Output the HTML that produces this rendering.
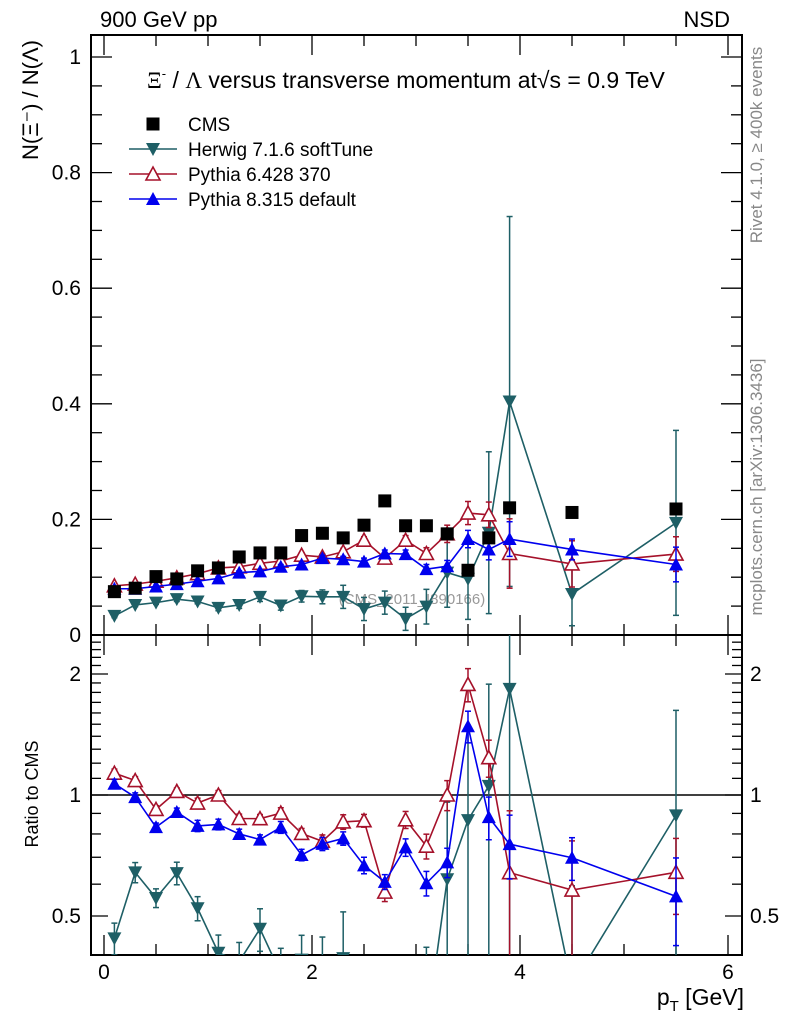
<!DOCTYPE html>
<html><head><meta charset="utf-8"><style>
html,body{margin:0;padding:0;background:#fff;overflow:hidden;width:786px;height:1024px;}
svg{display:block;font-family:"Liberation Sans","DejaVu Sans",sans-serif;}
</style></head><body>
<svg id="chart" width="786" height="1024" viewBox="0 0 786 1024" xmlns="http://www.w3.org/2000/svg">
<text x="100" y="27" font-size="22">900 GeV pp</text>
<text x="730" y="27" font-size="22" text-anchor="end">NSD</text>
<text x="147" y="88" font-size="23"><tspan font-family="Liberation Serif,serif">Ξ</tspan><tspan font-size="13" dy="-10">-</tspan><tspan dy="10"> / </tspan><tspan font-family="Liberation Serif,serif">Λ</tspan> versus transverse momentum at√s = 0.9 TeV</text>
<text transform="translate(762,145) rotate(-90)" font-size="17" fill="#888" text-anchor="middle">Rivet 4.1.0, ≥ 400k events</text>
<text transform="translate(762,487) rotate(-90)" font-size="17" fill="#888" text-anchor="middle">mcplots.cern.ch [arXiv:1306.3436]</text>
<text transform="translate(38,100) rotate(-90)" font-size="22" text-anchor="middle">N(Ξ⁻)  /  N(Λ)</text>
<text transform="translate(38,794) rotate(-90)" font-size="18" text-anchor="middle">Ratio to CMS</text>
<text x="744" y="1005" font-size="23" text-anchor="end">p<tspan font-size="15" dy="6">T</tspan><tspan dy="-6"> [GeV]</tspan></text>
<text x="412" y="604" font-size="15" fill="#999" text-anchor="middle">(CMS_2011_I890166)</text>
<g id="g"></g>
</svg>
<script>
const pt = [0.1,0.3,0.5,0.7,0.9,1.1,1.3,1.5,1.7,1.9,2.1,2.3,2.5,2.7,2.9,3.1,3.3,3.5,3.7,3.9,4.5,5.5];
const cms = [0.075,0.081,0.101,0.097,0.111,0.116,0.135,0.142,0.142,0.172,0.176,0.168,0.190,0.232,0.189,0.189,0.175,0.112,0.168,0.220,0.212,0.218];
const herwig = [0.033,0.052,0.056,0.062,0.058,0.047,0.052,0.066,0.051,0.067,0.066,0.066,0.045,0.056,0.028,0.049,0.108,0.097,0.177,0.404,0.071,0.194];
const herwigErr = [0.003,0.003,0.003,0.004,0.004,0.005,0.006,0.008,0.008,0.010,0.012,0.020,0.020,0.020,0.020,0.030,0.060,0.070,0.140,0.320,0.055,0.160];
const py6 = [0.085,0.088,0.093,0.099,0.106,0.116,0.118,0.124,0.128,0.138,0.135,0.144,0.164,0.133,0.164,0.141,0.175,0.211,0.208,0.141,0.123,0.140];
const py6Err = [0.002,0.002,0.002,0.002,0.003,0.003,0.003,0.003,0.004,0.004,0.005,0.006,0.006,0.007,0.008,0.010,0.015,0.020,0.022,0.060,0.040,0.030];
const py8 = [0.080,0.080,0.084,0.088,0.093,0.098,0.108,0.110,0.118,0.122,0.133,0.131,0.127,0.141,0.140,0.114,0.119,0.166,0.148,0.166,0.148,0.122];
const py8Err = [0.002,0.002,0.002,0.002,0.003,0.003,0.003,0.003,0.004,0.004,0.005,0.005,0.006,0.006,0.007,0.008,0.010,0.015,0.018,0.030,0.018,0.030];
const mainTicks = [0,0.2,0.4,0.6,0.8,1];
const mainTickLabels = ["0","0.2","0.4","0.6","0.8","1"];
const xTicks = [0,2,4,6];
const ratioTicks = [0.5,1,2];
const ratioTickLabels = ["0.5","1","2"];

const NS="http://www.w3.org/2000/svg";
const g=document.getElementById('g');
const L=91,R=742,T=35,MB=635,RB=955;
const X=v=>104+v*104;
const Y=v=>635-v*578;
const YR=v=>795-Math.log2(v)*121;
function el(tag,a,parent){const e=document.createElementNS(NS,tag);for(const k in a)e.setAttribute(k,a[k]);(parent||g).appendChild(e);return e;}

const defs=el('defs',{});
const c1=el('clipPath',{id:'cm'},defs);el('rect',{x:L,y:T,width:R-L,height:MB-T},c1);
const c2=el('clipPath',{id:'cr'},defs);el('rect',{x:L,y:MB,width:R-L,height:RB-MB},c2);

let f=el('rect',{x:L,y:T,width:R-L,height:MB-T,fill:'none',stroke:'#000','stroke-width':2});

f=el('rect',{x:L,y:MB,width:R-L,height:RB-MB,fill:'none',stroke:'#000','stroke-width':2});


for(let v=0;v<=1.0001;v+=0.05){const y=Y(v);const maj=Math.abs(v*5-Math.round(v*5))<1e-6;const len=maj?21:11;
 el('line',{x1:L,x2:L+len,y1:y,y2:y,stroke:'#000','stroke-width':1.3});el('line',{x1:R,x2:R-len,y1:y,y2:y,stroke:'#000','stroke-width':1.3});}
mainTicks.forEach((v,i)=>{const t=el('text',{x:81,y:Y(v)+7,'font-size':21,'text-anchor':'end'});t.textContent=mainTickLabels[i];
 });
for(let v=0;v<=6.001;v+=0.5){const x=X(v);const maj=Math.abs(v-Math.round(v/2)*2)<1e-6;const len=maj?20:11;
 el('line',{x1:x,x2:x,y1:MB,y2:MB-len,stroke:'#000','stroke-width':1.3});el('line',{x1:x,x2:x,y1:T,y2:T+len,stroke:'#000','stroke-width':1.3});
 el('line',{x1:x,x2:x,y1:RB,y2:RB-len,stroke:'#000','stroke-width':1.3});el('line',{x1:x,x2:x,y1:MB,y2:MB+len,stroke:'#000','stroke-width':1.3});}
xTicks.forEach(v=>{const t=el('text',{x:X(v),y:979,'font-size':21,'text-anchor':'middle'});t.textContent=v;
 });
const rminor=[0.4,0.6,0.7,0.8,0.9,1.1,1.2,1.3,1.4,1.5,1.6,1.7,1.8,1.9,2.1,2.2,2.3,2.4];
rminor.forEach(v=>{const y=YR(v);el('line',{x1:L,x2:L+10,y1:y,y2:y,stroke:'#000','stroke-width':1.3});el('line',{x1:R,x2:R-10,y1:y,y2:y,stroke:'#000','stroke-width':1.3});});
ratioTicks.forEach((v,i)=>{const y=YR(v);el('line',{x1:L,x2:L+17,y1:y,y2:y,stroke:'#000','stroke-width':1.3});el('line',{x1:R,x2:R-17,y1:y,y2:y,stroke:'#000','stroke-width':1.3});
 let t=el('text',{x:81,y:y+7,'font-size':21,'text-anchor':'end'});t.textContent=ratioTickLabels[i];
 
 t=el('text',{x:750,y:y+7,'font-size':21});t.textContent=ratioTickLabels[i];
 });
let ref=el('line',{x1:L,x2:R,y1:YR(1),y2:YR(1),stroke:'#000','stroke-width':1.5});


function marker(parent,type,x,y,color){
 if(type==='sq') return el('rect',{x:x-6.5,y:y-6.5,width:13,height:13,fill:'#000'},parent);
 if(type==='down') return el('polygon',{points:`${x-7},${y-6} ${x+7},${y-6} ${x},${y+7}`,fill:color},parent);
 if(type==='up') return el('polygon',{points:`${x-7},${y+6} ${x+7},${y+6} ${x},${y-7}`,fill:color},parent);
 if(type==='open') return el('polygon',{points:`${x-7},${y+6} ${x+7},${y+6} ${x},${y-7}`,fill:'#fff',stroke:color,'stroke-width':1.6},parent);
}
function series(name,vals,errs,color,type,ratio){
 const clip=ratio?'url(#cr)':'url(#cm)';
 const grp=el('g',{'clip-path':clip});
 
 const ys=vals.map((v,i)=>ratio?YR(v/cms[i]):Y(v));
 const yl=vals.map((v,i)=>ratio?YR(Math.max(1e-3,(v-errs[i])/cms[i])):Y(v-errs[i]));
 const yh=vals.map((v,i)=>ratio?YR((v+errs[i])/cms[i]):Y(v+errs[i]));
 el('polyline',{points:pt.map((p,i)=>X(p)+','+ys[i]).join(' '),fill:'none',stroke:color,'stroke-width':1.6},grp);
 pt.forEach((p,i)=>{const x=X(p);
  el('line',{x1:x,x2:x,y1:yl[i],y2:yh[i],stroke:color,'stroke-width':1.5},grp);
  el('line',{x1:x-3,x2:x+3,y1:yl[i],y2:yl[i],stroke:color,'stroke-width':1.5},grp);
  el('line',{x1:x-3,x2:x+3,y1:yh[i],y2:yh[i],stroke:color,'stroke-width':1.5},grp);
  const m=marker(grp,type,x,ys[i],color);
  
  
 });
}
const HC='#1e5f66',P6='#a5112a',P8='#0000ee';
series('herwig-series',herwig,herwigErr,HC,'down',false);
series('pythia6-series',py6,py6Err,P6,'open',false);
series('pythia8-series',py8,py8Err,P8,'up',false);
const cg=el('g',{'clip-path':'url(#cm)'});

pt.forEach((p,i)=>{const m=marker(cg,'sq',X(p),Y(cms[i]));
 
 });
series('herwig-ratio',herwig,herwigErr,HC,'down',true);
series('pythia6-ratio',py6,py6Err,P6,'open',true);
series('pythia8-ratio',py8,py8Err,P8,'up',true);

const leg=[['CMS','sq','#000'],['Herwig 7.1.6 softTune','down',HC],['Pythia 6.428 370','open',P6],['Pythia 8.315 default','up',P8]];
leg.forEach((d,i)=>{const y=124+i*25;const lg=el('g',{});
 
 if(i>0) el('line',{x1:129,x2:177,y1:y,y2:y,stroke:d[2],'stroke-width':1.6},lg);
 marker(lg,d[1],153,y,d[2]);
 const t=el('text',{x:188,y:y+7,'font-size':19},lg);t.textContent=d[0];});
</script>
</body></html>
